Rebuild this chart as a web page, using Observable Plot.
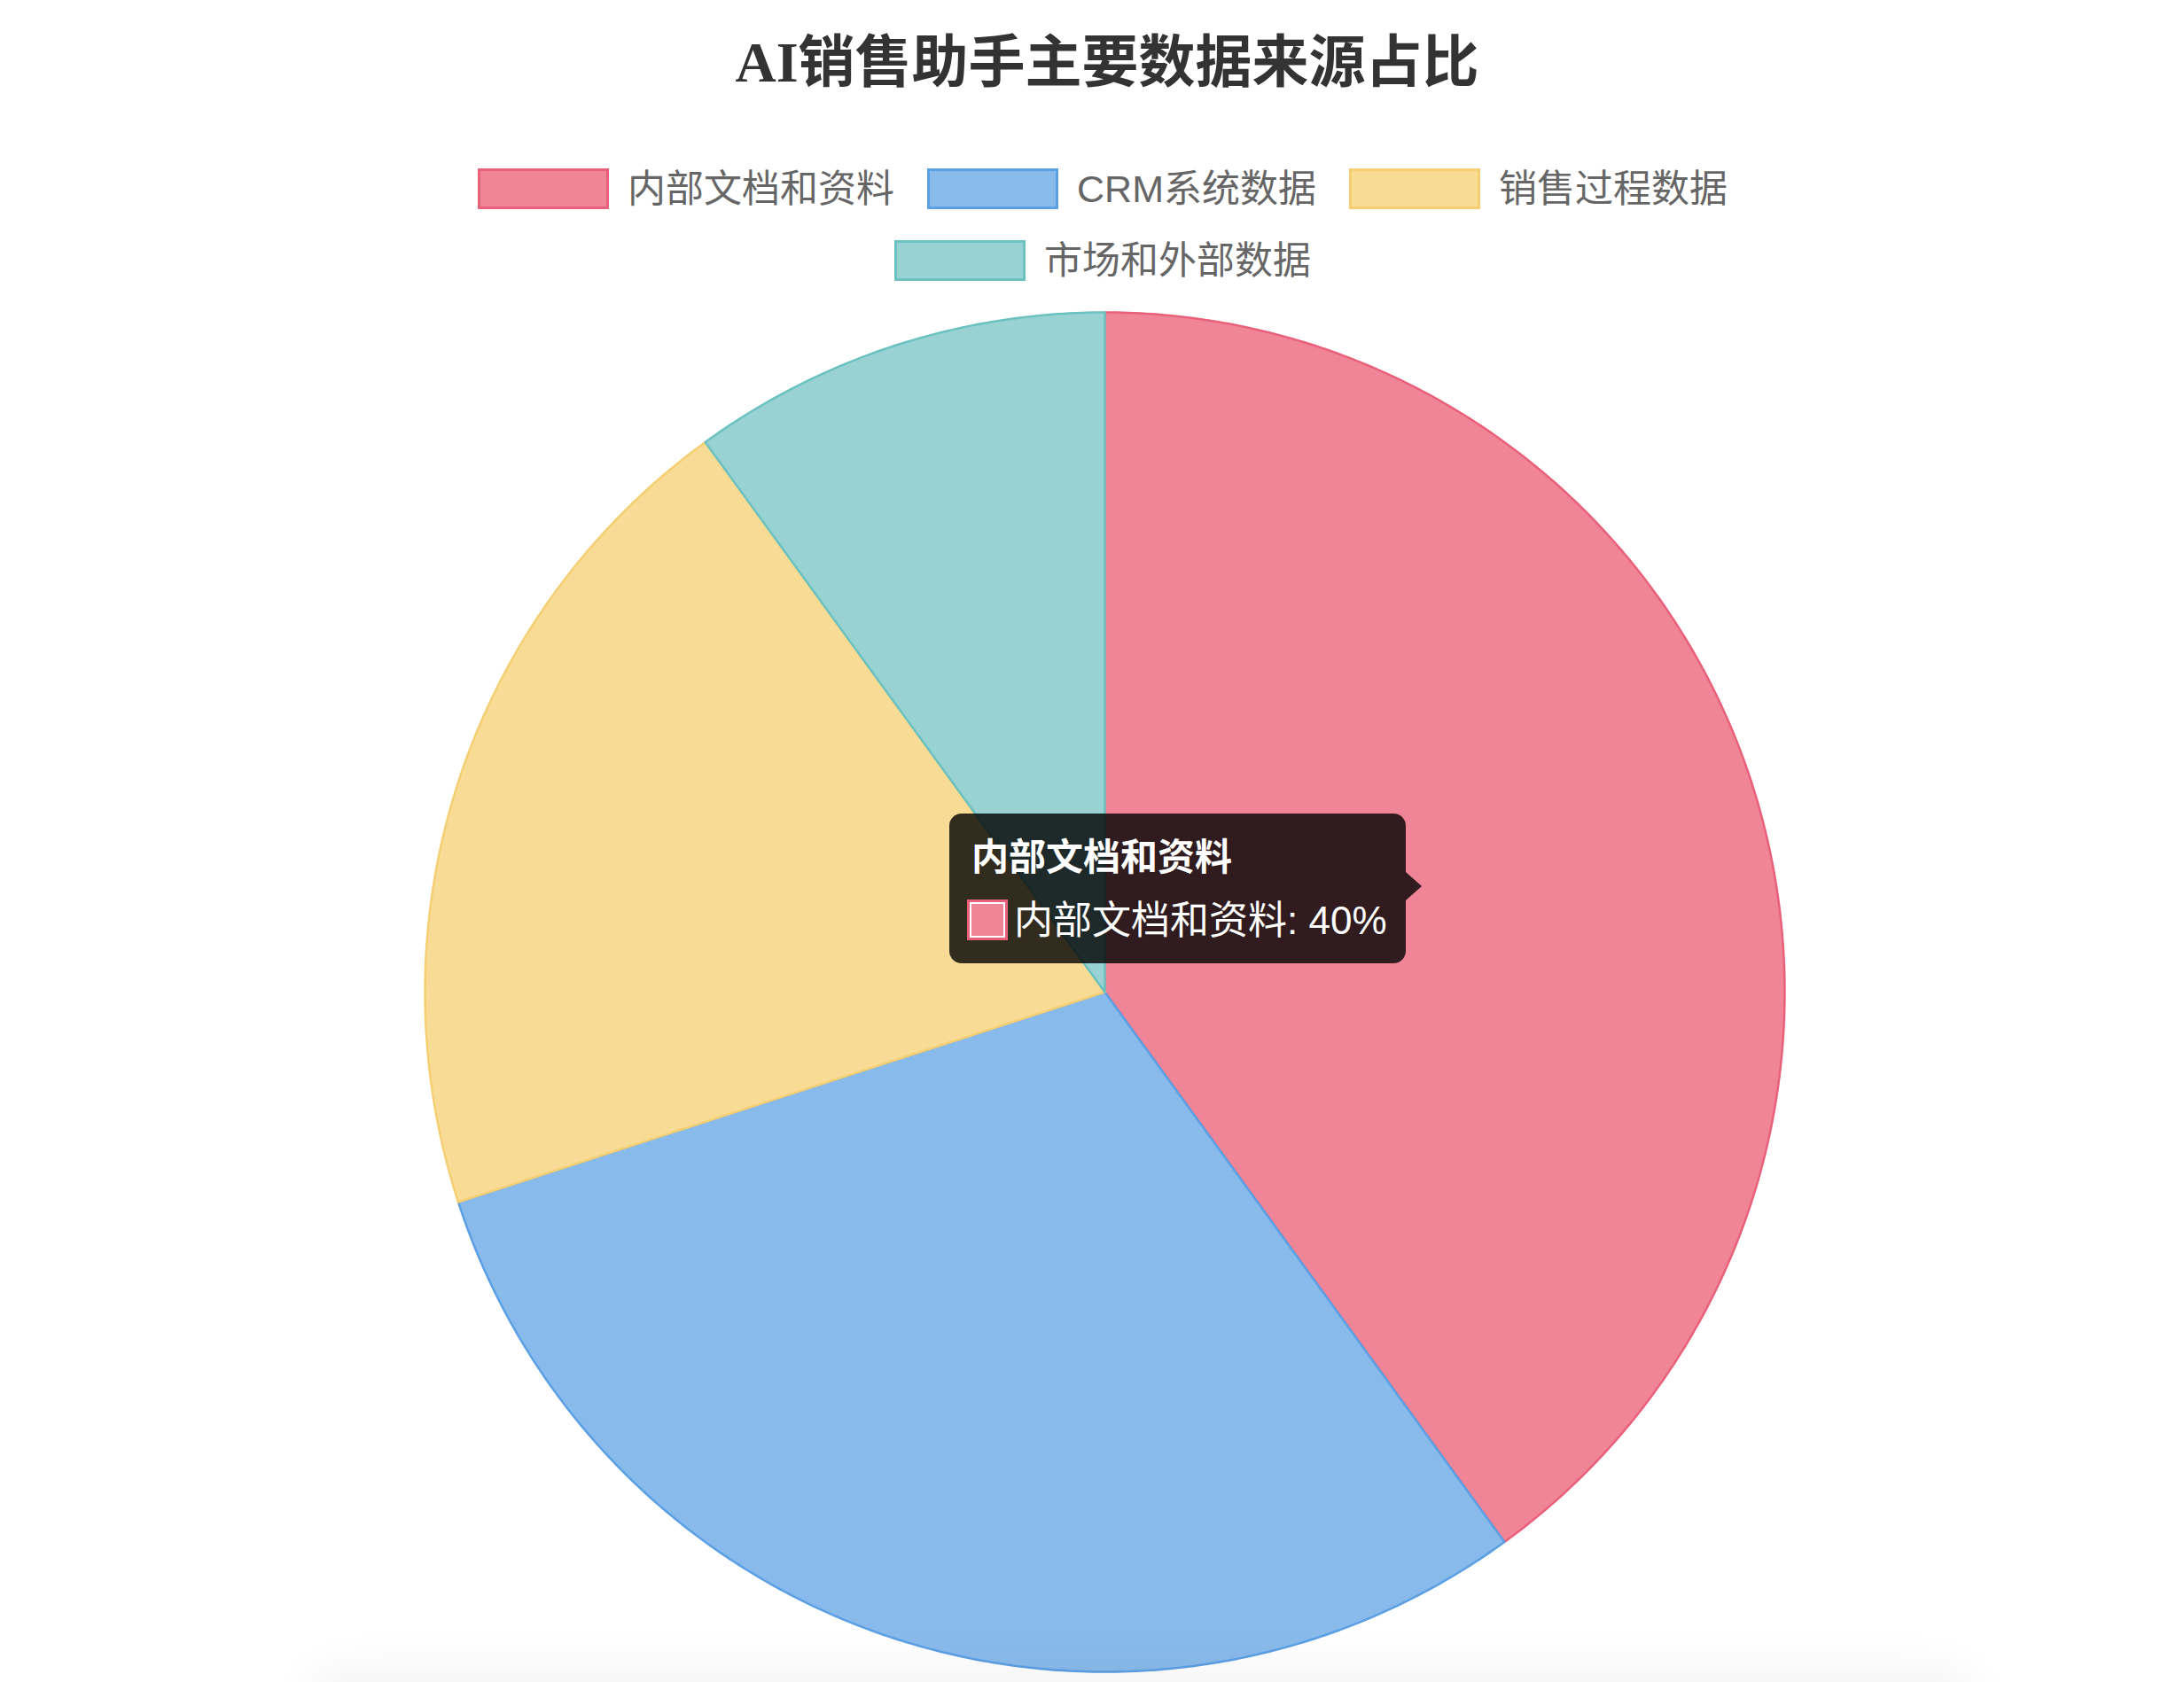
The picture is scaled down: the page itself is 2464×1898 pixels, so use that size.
<!DOCTYPE html>
<html><head><meta charset="utf-8">
<script src="https://cdn.jsdelivr.net/npm/d3@7"></script>
<script src="https://cdn.jsdelivr.net/npm/@observablehq/plot@0.6"></script>
<style>
html,body{margin:0;padding:0;background:#fff;overflow:hidden;width:2464px;height:1898px;}
#root{position:relative;width:2464px;height:1898px;overflow:hidden;}
#title{position:absolute;left:0;width:2498px;top:30px;text-align:center;font-weight:bold;font-size:64px;font-family:"Liberation Serif","Noto Sans CJK SC",serif;color:#333;line-height:82px;}
#legend{position:absolute;left:494px;width:1500px;top:190px;display:flex;flex-wrap:wrap;justify-content:center;column-gap:37px;row-gap:35px;}
.item{display:flex;align-items:center;height:46px;}
.sw{width:148px;height:46px;box-sizing:border-box;border:3px solid;margin-right:21px;}
.lt{font-size:43px;line-height:46px;color:#666;font-family:"Liberation Sans","Noto Sans CJK SC",sans-serif;white-space:nowrap;}
#chart{position:absolute;left:479px;top:352px;}
#tip{position:absolute;left:1071px;top:918px;width:515px;height:169px;border-radius:14px;background:rgba(0,0,0,0.8);color:#fff;font-family:"Liberation Sans","Noto Sans CJK SC",sans-serif;}
#tip .arrow{position:absolute;left:515px;top:66px;width:0;height:0;border-top:16px solid transparent;border-bottom:16px solid transparent;border-left:18px solid rgba(0,0,0,0.8);}
#tip .l1{position:absolute;left:25px;top:25px;line-height:50px;font-size:42px;font-weight:bold;white-space:nowrap;}
#tip .sq{position:absolute;left:20px;top:97px;width:46px;height:46px;box-sizing:border-box;border:3px solid;}
#tip .l2{position:absolute;left:73px;top:96px;line-height:50px;font-size:44px;white-space:nowrap;}
#shadow{position:absolute;left:363px;top:1905px;width:1848px;height:100px;border-radius:20px;box-shadow:0 -6px 60px 10px rgba(0,0,0,0.06);}
</style>
</head><body>
<div id="root">
  <div id="title"></div>
  <div id="legend"></div>
  <div id="chart"></div>
  <div id="tip"></div>
  <div id="shadow"></div>
</div>
<script>
const titleText = "AI销售助手主要数据来源占比";
const categories = ["内部文档和资料", "CRM系统数据", "销售过程数据", "市场和外部数据"];
const shares = [40, 30, 20, 10];
const fills = ["#F08598", "#88BAEB", "#F8DC95", "#98D2D2"];
const borders = ["#E9607A", "#5B9FE4", "#F4CF74", "#6CC1C1"];
const hovered = 0;

document.getElementById("title").textContent = titleText;

// legend
const lg = document.getElementById("legend");
categories.forEach((c, i) => {
  const it = document.createElement("div"); it.className = "item";
  const sw = document.createElement("div"); sw.className = "sw";
  sw.style.background = fills[i]; sw.style.borderColor = borders[i];
  const t = document.createElement("span"); t.className = "lt"; t.textContent = c;
  it.appendChild(sw); it.appendChild(t); lg.appendChild(it);
});

// pie slices as planar polygons
const arcs = d3.pie().sort(null).value(d => d)(shares);
function ring(a0, a1, withCenter) {
  const pts = withCenter ? [[0, 0]] : [];
  const n = Math.max(2, Math.ceil((a1 - a0) / (Math.PI / 360)));
  for (let k = 0; k <= n; k++) {
    const t = a0 + (a1 - a0) * k / n;
    pts.push([Math.sin(t), Math.cos(t)]);
  }
  pts.push(pts[0].slice());
  return pts;
}
const features = arcs.map((a, i) => ({
  type: "Feature",
  properties: {name: categories[i], value: shares[i]},
  geometry: {type: "Polygon", coordinates: [ring(a.startAngle, a.endAngle, true)]}
}));
const disk = {type: "Polygon", coordinates: [ring(0, 2 * Math.PI, false)]};

const chart = Plot.plot({
  width: 1534,
  height: 1534,
  margin: 0,
  projection: {type: "reflect-y", domain: disk, inset: 0},
  color: {domain: categories, range: fills},
  style: {overflow: "visible", background: "transparent"},
  marks: features.map((f, i) => Plot.geo([f], {
    fill: d => d.properties.name,
    stroke: borders[i],
    strokeWidth: 2.5,
    strokeLinejoin: "round"
  }))
});
document.getElementById("chart").appendChild(chart);

// tooltip (hover state in the reference)
const tip = document.getElementById("tip");
tip.innerHTML = "";
const ar = document.createElement("div"); ar.className = "arrow"; tip.appendChild(ar);
const l1 = document.createElement("div"); l1.className = "l1"; l1.textContent = categories[hovered]; tip.appendChild(l1);
const sq = document.createElement("div"); sq.className = "sq";
sq.style.background = fills[hovered]; sq.style.borderColor = borders[hovered];
sq.style.boxShadow = "inset 0 0 0 2px #fff";
tip.appendChild(sq);
const l2 = document.createElement("div"); l2.className = "l2";
l2.textContent = categories[hovered] + ": " + shares[hovered] + "%"; tip.appendChild(l2);
</script>
</body></html>
